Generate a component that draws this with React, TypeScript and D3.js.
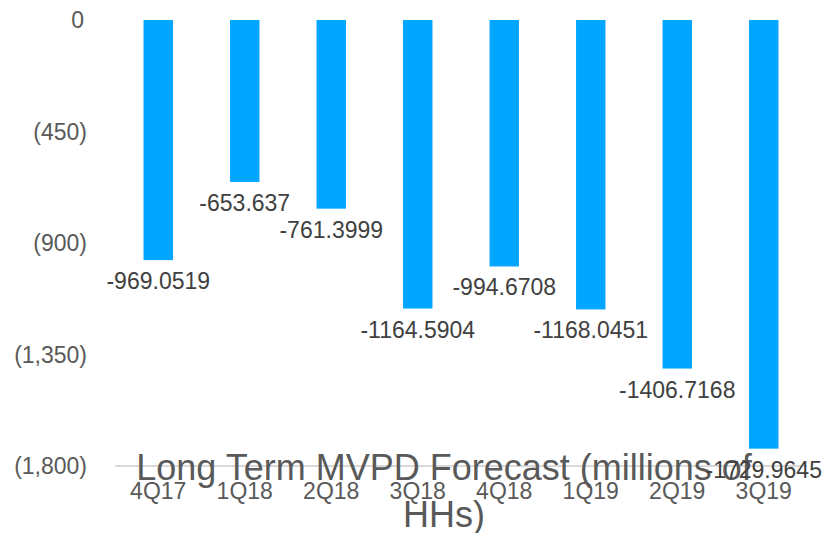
import { useEffect, useRef } from 'react'
import * as d3 from 'd3'

const quarters = ['4Q17', '1Q18', '2Q18', '3Q18', '4Q18', '1Q19', '2Q19', '3Q19']
const forecast = [-969.0519, -653.637, -761.3999, -1164.5904, -994.6708, -1168.0451, -1406.7168, -1729.9645]
const yTicks = [0, -450, -900, -1350, -1800]
const titleLines = ['Long Term MVPD Forecast (millions of', 'HHs)']

const width = 827
const height = 533

export default function App() {
  const svgRef = useRef<SVGSVGElement>(null)

  useEffect(() => {
    if (!svgRef.current) return
    const font = 'Helvetica, "Liberation Sans", Arial, sans-serif'
    const svg = d3.select(svgRef.current)
    svg.selectAll('*').remove()

    const x = d3.scaleBand().domain(quarters).range([115, 807]).paddingInner(0.66).paddingOuter(0.33)
    const y = d3.scaleLinear().domain([-1800, 0]).range([466, 20])

    const fmt = (v: number) => (v === 0 ? '0' : `(${d3.format(',')(Math.abs(v))})`)

    // y tick labels
    svg.append('g')
      .selectAll('text')
      .data(yTicks)
      .join('text')
      .attr('x', d => (d === 0 ? 84 : 87))
      .attr('y', d => y(d))
      .attr('dy', '0.35em')
      .attr('text-anchor', 'end')
      .attr('fill', '#595959')
      .attr('font-size', '23px')
      .attr('font-family', font)
      .text(fmt)

    // bars
    svg.append('g')
      .selectAll('rect')
      .data(forecast)
      .join('rect')
      .attr('x', (_, i) => x(quarters[i])!)
      .attr('y', y(0))
      .attr('width', x.bandwidth())
      .attr('height', d => y(d) - y(0))
      .attr('fill', '#00A6FF')

    // axis line
    svg.append('line')
      .attr('x1', 115).attr('x2', 807)
      .attr('y1', y(-1800)).attr('y2', y(-1800))
      .attr('stroke', '#D9D9D9').attr('stroke-width', 2)

    // x labels
    svg.append('g')
      .selectAll('text')
      .data(quarters)
      .join('text')
      .attr('x', d => x(d)! + x.bandwidth() / 2)
      .attr('y', 499)
      .attr('text-anchor', 'middle')
      .attr('fill', '#595959')
      .attr('font-size', '23px')
      .attr('font-family', font)
      .text(d => d)

    // title (drawn over axis, as in the source)
    const title = svg.append('text')
      .attr('text-anchor', 'middle')
      .attr('fill', '#595959')
      .attr('font-size', '36px')
      .attr('font-family', font)
    titleLines.forEach((t, i) => {
      title.append('tspan').attr('x', 444).attr('y', 480 + i * 47).text(t)
    })

    // value labels
    svg.append('g')
      .selectAll('text')
      .data(forecast)
      .join('text')
      .attr('x', (_, i) => x(quarters[i])! + x.bandwidth() / 2)
      .attr('y', d => y(d) + 29)
      .attr('text-anchor', 'middle')
      .attr('fill', '#404040')
      .attr('font-size', '23px')
      .attr('font-family', font)
      .text(d => String(d))
  }, [])

  return (
    <svg
      ref={svgRef}
      width={width}
      height={height}
      style={{ position: 'absolute', left: 0, top: 0, background: '#fff' }}
    />
  )
}
